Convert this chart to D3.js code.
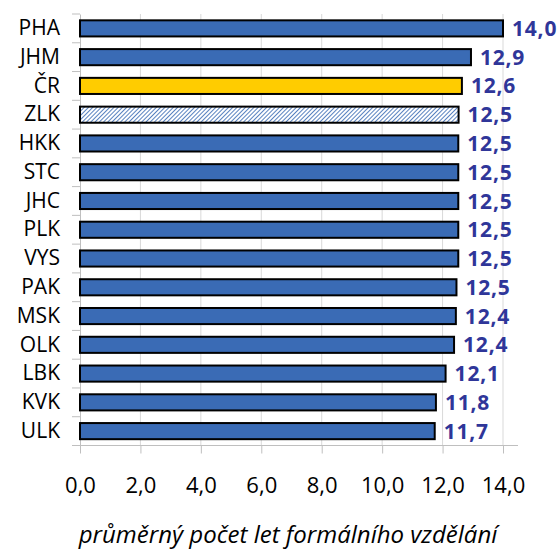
<!DOCTYPE html>
<html>
<head>
<meta charset="utf-8">
<script src="https://cdn.jsdelivr.net/npm/d3@7"></script>
<style>
  body { margin: 0; background: #fff; }
  text { font-family: "Open Sans", sans-serif; }
</style>
</head>
<body>
<script>
const regions = ['PHA', 'JHM', 'ČR', 'ZLK', 'HKK', 'STC', 'JHC', 'PLK', 'VYS', 'PAK', 'MSK', 'OLK', 'LBK', 'KVK', 'ULK'];
const years = [14.0, 12.94, 12.64, 12.53, 12.52, 12.52, 12.52, 12.52, 12.52, 12.46, 12.44, 12.38, 12.1, 11.78, 11.74];
const xTicks = [0, 2, 4, 6, 8, 10, 12, 14];
const axisTitle = 'průměrný počet let formálního vzdělání';

const width = 560, height = 550;
const plotLeft = 80, plotRight = 503, plotTop = 14, plotBottom = 445.5;

const svg = d3.select('body').append('svg')
  .attr('width', width)
  .attr('height', height);

const defs = svg.append('defs');
const hatch = defs.append('pattern')
  .attr('id', 'hatch')
  .attr('patternUnits', 'userSpaceOnUse')
  .attr('width', 3)
  .attr('height', 3)
  .attr('patternTransform', 'rotate(45)');
hatch.append('rect').attr('width', 3).attr('height', 3).attr('fill', '#fff');
hatch.append('line')
  .attr('x1', 0).attr('y1', 0).attr('x2', 0).attr('y2', 3)
  .attr('stroke', '#3a6bb5').attr('stroke-width', 1.7);

const x = d3.scaleLinear().domain([0, 14]).range([plotLeft, plotRight]);
const y = d3.scaleBand().domain(regions).range([plotTop, plotBottom])
  .paddingInner(0.44).paddingOuter(0.22);

// gridlines
svg.append('g')
  .selectAll('line')
  .data(xTicks.slice(1))
  .enter().append('line')
  .attr('x1', d => x(d)).attr('x2', d => x(d))
  .attr('y1', plotTop).attr('y2', plotBottom)
  .attr('stroke', '#d9d9d9')
  .attr('stroke-width', 1);

// bottom axis
const xAxis = svg.append('g')
  .attr('transform', `translate(0,${plotBottom})`)
  .call(d3.axisBottom(x).tickValues(xTicks).tickSize(8).tickPadding(24)
    .tickFormat(d => d3.format('.1f')(d).replace('.', ',')));
xAxis.select('.domain').remove();
xAxis.append('line')
  .attr('x1', plotLeft).attr('x2', 518)
  .attr('stroke', '#bfbfbf');
xAxis.selectAll('.tick line').attr('stroke', '#bfbfbf');
xAxis.selectAll('.tick text')
  .attr('fill', '#000')
  .style('font-size', '22px')
  .style('font-family', '"Open Sans", sans-serif');

// left axis
const yAxis = svg.append('g')
  .attr('transform', `translate(${plotLeft},0)`)
  .call(d3.axisLeft(y).tickSize(0).tickPadding(20));
yAxis.select('.domain').attr('stroke', '#bfbfbf');
yAxis.selectAll('.tick text')
  .attr('fill', '#000')
  .style('font-size', '21px')
  .style('font-family', '"Open Sans", sans-serif');
const step = y.step();
svg.append('g')
  .selectAll('line')
  .data(d3.range(regions.length + 1))
  .enter().append('line')
  .attr('x1', plotLeft - 8).attr('x2', plotLeft)
  .attr('y1', i => plotTop + i * step).attr('y2', i => plotTop + i * step)
  .attr('stroke', '#bfbfbf');

// bars
svg.append('g')
  .selectAll('rect')
  .data(regions)
  .enter().append('rect')
  .attr('x', x(0))
  .attr('y', d => y(d))
  .attr('width', (d, i) => x(years[i]) - x(0))
  .attr('height', y.bandwidth())
  .attr('fill', d => d === 'ČR' ? '#ffcc00' : d === 'ZLK' ? 'url(#hatch)' : '#3a6bb5')
  .attr('stroke', '#000')
  .attr('stroke-width', 2);

// value labels
svg.append('g')
  .selectAll('text')
  .data(regions)
  .enter().append('text')
  .attr('x', (d, i) => x(years[i]) + 9)
  .attr('y', d => y(d) + y.bandwidth() / 2)
  .attr('dy', '0.36em')
  .attr('fill', '#2f3699')
  .style('font-size', '21px')
  .style('letter-spacing', '0.8px')
  .style('font-weight', 'bold')
  .text((d, i) => years[i].toFixed(1).replace('.', ','));

svg.append('text')
  .attr('x', 288)
  .attr('y', 543)
  .attr('text-anchor', 'middle')
  .style('font-size', '24px')
  .style('font-style', 'italic')
  .text(axisTitle);
</script>
</body>
</html>
